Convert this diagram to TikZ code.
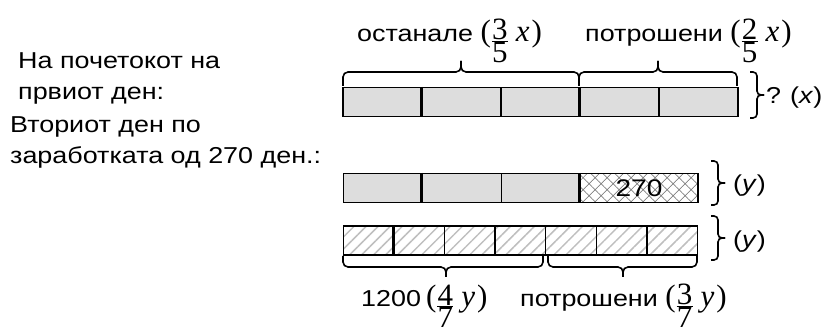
\documentclass[tikz,border=0pt]{standalone}
\usepackage{fontspec}
\setmainfont{Liberation Sans}[FakeStretch=1.17]
\newfontfamily\serifmath{Liberation Serif}
\usetikzlibrary{patterns.meta}

% stacked fraction: numerator over a rule over denominator
\newcommand\stackfrac[2]{\raisebox{-21pt}{\vbox{\offinterlineskip
  \hbox to 16pt{\hss#1\hss}\kern1pt\hrule height 0.7pt\kern1pt
  \hbox to 16pt{\hss#2\hss}}}}
% share of a total, e.g. (3/5 x)
\newcommand\share[3]{{\serifmath\fontsize{31}{33}\selectfont
  (\kern1pt\stackfrac{#1}{#2}\kern8pt\textit{#3}\kern2pt)}}

\definecolor{barfill}{RGB}{221,221,221}

\tikzset{
  txt/.style={inner sep=0pt, anchor=base west, font=\fontsize{23}{27}\selectfont},
  cellbox/.style={draw, line width=1.5pt, anchor=north west, inner sep=0pt,
    minimum height=29pt},
  graycell/.style={cellbox, fill=barfill, minimum width=79pt},
  hatchcell/.style={cellbox, minimum width=50.57pt,
    pattern={Lines[angle=45,distance=8.5pt,line width=1.5pt]}, pattern color=black!25},
  crosscell/.style={cellbox, minimum width=118pt,
    pattern={Hatch[angle=45,distance=8.5pt,line width=0.7pt]}, pattern color=black!50},
  divider/.style={line width=3pt},
  brc/.style={line width=1.6pt, rounded corners=5pt},
  vbrc/.style={line width=1.6pt, rounded corners=4pt},
}

\begin{document}
\begin{tikzpicture}[x=1pt,y=-1pt]
\useasboundingbox (0,0) rectangle (830,328);

% row labels
\node[txt] (l1) at (18,69) {На почетокот на};
\node[txt] (l2) at (18,100) {првиот ден:};
\node[txt] (l3) at (10,133) {Вториот ден по};
\node[txt] (l4) at (10,164) {заработката од 270 ден.:};

% first day: five equal parts
\foreach \i in {0,...,4}
  \node[graycell] (a\i) at ({342+79*\i},87) {};
\draw[divider] (a1.north west) -- (a1.south west);
\draw[divider] (a3.north west) -- (a3.south west);

% braces above the first bar
\draw[brc] (343,86) -- (343,72) -- (461,72) -- (461,61);
\draw[brc] (461,61) -- (461,72) -- (579,72) -- (579,86);
\draw[brc] (579,86) -- (579,72) -- (658,72) -- (658,61);
\draw[brc] (658,61) -- (658,72) -- (737,72) -- (737,86);
\node[txt] (t1) at (357,42) {останале \share{3}{5}{x}};
\node[txt] (t2) at (585,42) {потрошени \share{2}{5}{x}};

% total x
\draw[vbrc] (750,72) -- (757,72) -- (757,95) -- (764,95);
\draw[vbrc] (764,95) -- (757,95) -- (757,118) -- (750,118);
\node[txt] (qx) at (766,104) {?\hspace{9pt}(\textit{x})};

% second day, after earning 270
\foreach \i in {0,...,2}
  \node[graycell] (b\i) at ({342.7+79*\i},173) {};
\node[crosscell, font=\fontsize{24}{27}\selectfont] (b3) at (579.7,173) {270};
\draw[divider] (b1.north west) -- (b1.south west);
\draw[divider] (b3.north west) -- (b3.south west);
\draw[vbrc] (711,161) -- (718,161) -- (718,183) -- (725,183);
\draw[vbrc] (725,183) -- (718,183) -- (718,205) -- (711,205);
\node[txt] (y1) at (733,192) {(\textit{y})};

% same amount split into seven parts
\foreach \i in {0,...,6}
  \node[hatchcell] (c\i) at ({342.7+50.57*\i},225.5) {};
\draw[divider] (c1.north west) -- (c1.south west);
\draw[vbrc] (711,216) -- (718,216) -- (718,238) -- (725,238);
\draw[vbrc] (725,238) -- (718,238) -- (718,260) -- (711,260);
\node[txt] (y2) at (733,248) {(\textit{y})};

% braces below the seven parts
\draw[brc] (343,256) -- (343,267) -- (446,267) -- (446,277);
\draw[brc] (446,277) -- (446,267) -- (543,267) -- (543,256);
\draw[brc] (548,256) -- (548,267) -- (623,267) -- (623,277);
\draw[brc] (623,277) -- (623,267) -- (697,267) -- (697,256);
\node[txt] (s1) at (361,307) {1200\kern5pt\share{4}{7}{y}};
\node[txt] (s2) at (520,307) {потрошени \share{3}{7}{y}};
\end{tikzpicture}
\end{document}
